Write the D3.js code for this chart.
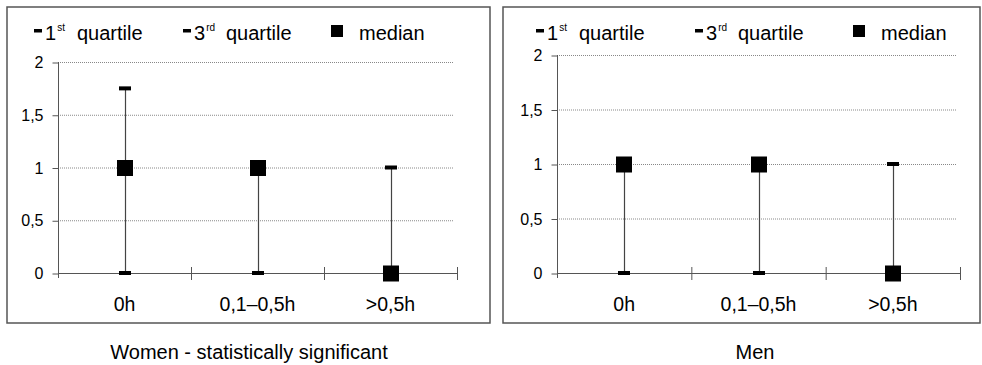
<!DOCTYPE html>
<html>
<head>
<meta charset="utf-8">
<script src="https://cdn.jsdelivr.net/npm/d3@7"></script>
<style>
  body { margin: 0; background: #fff; }
  svg { display: block; font-family: "Liberation Sans", Arial, sans-serif; }
</style>
</head>
<body>
<svg id="chart" width="982" height="365"></svg>
<script>
// data
var categories = ['0h', '0,1–0,5h', '>0,5h'];
var yTicks = [0, 0.5, 1, 1.5, 2];
var yTickLabels = ['0', '0,5', '1', '1,5', '2'];

var womenQ1 = [0, 0, 0];
var womenQ3 = [1.75, 1, 1];
var womenMedian = [1, 1, 0];

var menQ1 = [0, 0, 0];
var menQ3 = [1, 1, 1];
var menMedian = [1, 1, 0];

var svg = d3.select('#chart');

drawPanel({
    frame: [7, 7, 483, 316],
    x0: 58, x1: 457, yTop: 62, yBottom: 273,
    legendX: 34, legendGap: [149, 297], titleX: 249,
    title: 'Women - statistically significant',
    q1: womenQ1, q3: womenQ3, median: womenMedian
});

drawPanel({
    frame: [503, 7, 477, 316],
    x0: 557, x1: 960, yTop: 55, yBottom: 273,
    legendX: 536, legendGap: [159, 317], titleX: 755,
    title: 'Men',
    q1: menQ1, q3: menQ3, median: menMedian
});

function quartileLegend(g, x, num, sup) {
    g.append('rect').attr('x', x).attr('y', 29).attr('width', 8).attr('height', 3.5).attr('fill', '#000');
    var t = g.append('text').attr('x', x + 11).attr('y', 40).attr('font-size', 20);
    t.append('tspan').text(num);
    t.append('tspan').attr('font-size', 10).attr('dx', 1).attr('dy', -9).text(sup);
    g.append('text').attr('x', x + 43).attr('y', 40).attr('font-size', 20).text('quartile');
}

function drawPanel(p) {
    var g = svg.append('g');

    g.append('rect')
        .attr('x', p.frame[0]).attr('y', p.frame[1])
        .attr('width', p.frame[2]).attr('height', p.frame[3])
        .attr('fill', 'none').attr('stroke', '#555').attr('stroke-width', 1.5);

    var x = d3.scaleBand().domain(categories).range([p.x0, p.x1]);
    var y = d3.scaleLinear().domain([0, 2]).range([p.yBottom, p.yTop]);

    // dotted grid
    g.selectAll('.grid').data(yTicks.filter(function (d) { return d > 0; }))
        .enter().append('line')
        .attr('x1', p.x0).attr('x2', p.x1 - 3)
        .attr('y1', function (d) { return y(d) + 0.5; })
        .attr('y2', function (d) { return y(d) + 0.5; })
        .attr('stroke', '#888').attr('stroke-width', 1)
        .attr('stroke-dasharray', '1,1');

    // y axis
    var yAxis = d3.axisLeft(y).tickValues(yTicks)
        .tickFormat(function (d, i) { return yTickLabels[i]; })
        .tickSize(6).tickSizeOuter(0).tickPadding(9);
    var ya = g.append('g').attr('transform', 'translate(' + (p.x0 + 0.5) + ',0.5)').call(yAxis);
    ya.select('.domain').remove();
    ya.selectAll('line').attr('stroke', '#555');
    ya.selectAll('text').attr('font-size', 16).attr('fill', '#000')
        .attr('font-family', '"Liberation Sans", Arial, sans-serif');
    g.append('line')
        .attr('x1', p.x0 + 0.5).attr('x2', p.x0 + 0.5)
        .attr('y1', y(2)).attr('y2', y(0) + 5)
        .attr('stroke', '#555');

    // x axis
    g.append('line')
        .attr('x1', p.x0).attr('x2', p.x1)
        .attr('y1', y(0) + 0.5).attr('y2', y(0) + 0.5)
        .attr('stroke', '#555');
    var bounds = categories.slice(1).map(function (c) { return x(c); }).concat([p.x1]);
    g.selectAll('.xtick').data(bounds).enter().append('line')
        .attr('x1', function (d) { return d + 0.5; })
        .attr('x2', function (d) { return d + 0.5; })
        .attr('y1', y(0) - 6).attr('y2', y(0) + 7)
        .attr('stroke', '#555');
    g.selectAll('.xlabel').data(categories).enter().append('text')
        .attr('x', function (d) { return x(d) + x.bandwidth() / 2; })
        .attr('y', y(0) + 38)
        .attr('text-anchor', 'middle').attr('font-size', 19.5)
        .text(function (d) { return d; });

    // whiskers
    var idx = d3.range(categories.length);
    var cx = function (i) { return Math.round(x(categories[i]) + x.bandwidth() / 2) + 0.5; };
    g.selectAll('.whisker').data(idx).enter().append('line')
        .attr('x1', cx).attr('x2', cx)
        .attr('y1', function (i) { return y(p.q1[i]); })
        .attr('y2', function (i) { return y(p.q3[i]); })
        .attr('stroke', '#444').attr('stroke-width', 1.2);

    var qs = [p.q1, p.q3];
    qs.forEach(function (q) {
        g.selectAll(null).data(idx).enter().append('rect')
            .attr('x', function (i) { return cx(i) - 6.5; })
            .attr('y', function (i) { return y(q[i]) - 2; })
            .attr('width', 12).attr('height', 4)
            .attr('fill', '#000');
    });

    g.selectAll('.median').data(idx).enter().append('rect')
        .attr('x', function (i) { return cx(i) - 8.5; })
        .attr('y', function (i) { return y(p.median[i]) - 7.5; })
        .attr('width', 16).attr('height', 16)
        .attr('fill', '#000');

    // legend
    var lx = p.legendX;
    quartileLegend(g, lx, '1', 'st');
    quartileLegend(g, lx + p.legendGap[0], '3', 'rd');
    var l3 = lx + p.legendGap[1];
    g.append('rect').attr('x', l3).attr('y', 25).attr('width', 12).attr('height', 12).attr('fill', '#000');
    g.append('text').attr('x', l3 + 28).attr('y', 40).attr('font-size', 20).text('median');

    // title
    g.append('text').attr('x', p.titleX).attr('y', 359)
        .attr('text-anchor', 'middle').attr('font-size', 20).text(p.title);
}
</script>
</body>
</html>
